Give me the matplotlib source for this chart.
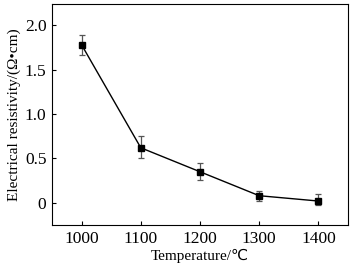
import matplotlib

matplotlib.use("Agg")
import matplotlib.pyplot as plt  # noqa: E402

plt.rcParams["font.family"] = ["Liberation Serif", "DejaVu Serif"]

temperature = [1000, 1100, 1200, 1300, 1400]
resistivity = [1.78, 0.62, 0.35, 0.08, 0.02]
err_low = [0.12, 0.12, 0.09, 0.06, 0.04]
err_high = [0.11, 0.13, 0.10, 0.05, 0.08]

fig = plt.figure(figsize=(3.54, 2.67), dpi=100)
ax = fig.add_axes([52 / 354, 1 - 225 / 267, 296 / 354, 221 / 267])

ax.errorbar(temperature, resistivity, yerr=[err_low, err_high], fmt="none",
            ecolor="#555555", elinewidth=0.9, capsize=2.5, capthick=0.9)
ax.plot(temperature, resistivity, "-s", color="black", lw=1.0, ms=4.5)

ax.set_xlim(950, 1450)
ax.set_ylim(-0.25, 2.24)
ax.set_xticks(temperature)
ax.set_yticks([0, 0.5, 1.0, 1.5, 2.0])
ax.set_yticklabels(["0", "0.5", "1.0", "1.5", "2.0"])
ax.tick_params(direction="in", length=3, width=0.8, labelsize=12.5, pad=4)
for s in ax.spines.values():
    s.set_linewidth(0.8)
ax.set_xlabel("Temperature/℃", fontsize=11, labelpad=2,
              family=["Liberation Serif", "DejaVu Sans"])
ax.set_ylabel("Electrical resistivity/(Ω•cm)", fontsize=11, labelpad=3)

fig.savefig("out.png", dpi=100)
